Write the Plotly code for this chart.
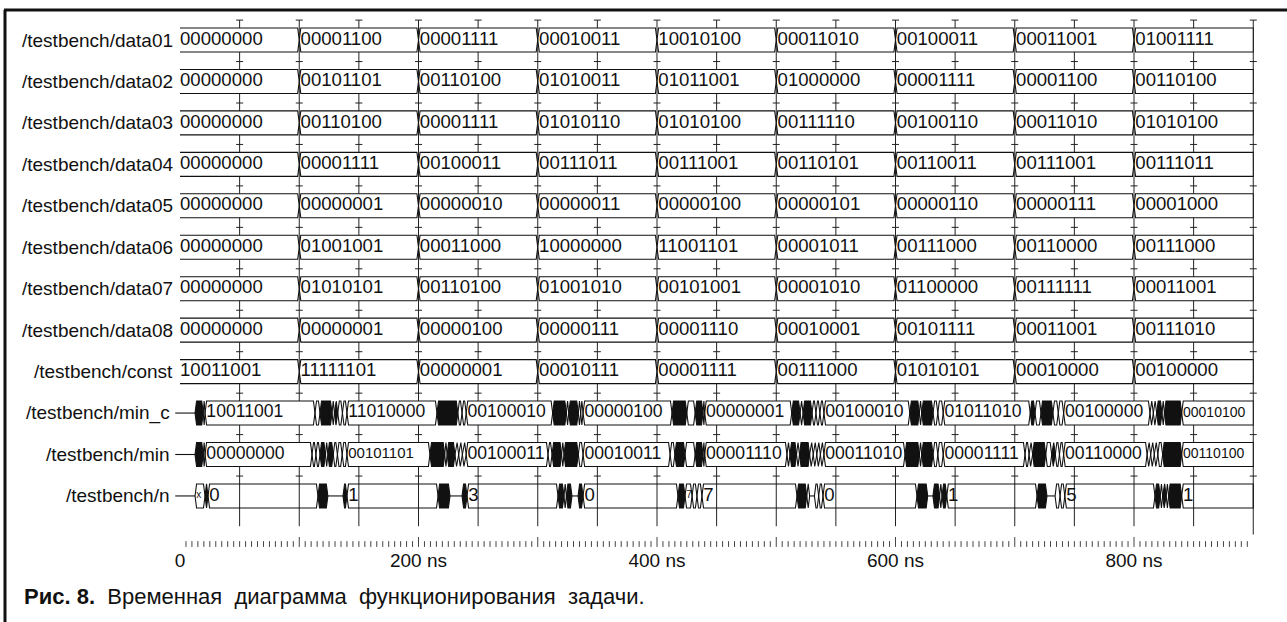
import plotly.graph_objects as go

# ---------------- data ----------------
END_NS = 900
row_names = ["/testbench/data01", "/testbench/data02", "/testbench/data03",
             "/testbench/data04", "/testbench/data05", "/testbench/data06",
             "/testbench/data07", "/testbench/data08", "/testbench/const",
             "/testbench/min_c", "/testbench/min", "/testbench/n"]

data_times = [0, 100, 200, 300, 400, 500, 600, 700, 800]
data01 = ["00000000", "00001100", "00001111", "00010011", "10010100", "00011010", "00100011", "00011001", "01001111"]
data02 = ["00000000", "00101101", "00110100", "01010011", "01011001", "01000000", "00001111", "00001100", "00110100"]
data03 = ["00000000", "00110100", "00001111", "01010110", "01010100", "00111110", "00100110", "00011010", "01010100"]
data04 = ["00000000", "00001111", "00100011", "00111011", "00111001", "00110101", "00110011", "00111001", "00111011"]
data05 = ["00000000", "00000001", "00000010", "00000011", "00000100", "00000101", "00000110", "00000111", "00001000"]
data06 = ["00000000", "01001001", "00011000", "10000000", "11001101", "00001011", "00111000", "00110000", "00111000"]
data07 = ["00000000", "01010101", "00110100", "01001010", "00101001", "00001010", "01100000", "00111111", "00011001"]
data08 = ["00000000", "00000001", "00000100", "00000111", "00001110", "00010001", "00101111", "00011001", "00111010"]
const_vals = ["10011001", "11111101", "00000001", "00010111", "00001111", "00111000", "01010101", "00010000", "00100000"]

# "~" = single mid line, "#" = dense burst of transitions, "" = unlabeled short value
min_c_times = [-4, 12.6, 19.5, 21,
               113.2, 117.4, 127.5, 129.5, 132.3, 136.2, 140,
               215.5, 233, 236.5, 240,
               312.5, 324, 326, 334, 336, 338,
               412.6, 425, 432, 438.6, 440,
               513, 520, 522.5, 530, 533.3, 536.6, 540,
               612, 620, 622, 631.5, 635.5, 640,
               713, 717, 722, 732, 736.5, 741,
               813.4, 816.2, 819, 823.5, 825.5, 840]
min_c_vals = ["~", "#", "", "10011001",
              "", "#", "", "#", "", "", "11010000",
              "#", "", "", "00100010",
              "#", "", "#", "", "", "00000100",
              "#", "", "#", "", "00000001",
              "#", "", "#", "", "", "", "00100010",
              "#", "", "#", "", "", "01011010",
              "#", "", "#", "", "", "00100000",
              "", "", "#", "", "#", "00010100"]

min_times = [-4, 12.6, 19.5, 21,
             110.7, 114, 117.4, 122, 124, 128.5, 132, 136, 140,
             209.6, 222, 224, 230.6, 233.7, 236.8, 240,
             308.6, 312, 320, 322, 334, 338,
             411, 415, 423.5, 432, 438.6, 440,
             509, 511.5, 517, 519.5, 528, 531, 534, 537, 540,
             608, 620, 622, 631.5, 635.5, 640,
             708.6, 712, 715, 726, 731, 734, 737.5, 741,
             811, 814, 817, 820, 824, 840]
min_vals = ["~", "#", "", "00000000",
            "", "", "#", "", "#", "", "", "", "00101101",
            "#", "", "#", "", "", "", "00100011",
            "", "#", "", "#", "", "00010011",
            "", "#", "", "#", "", "00001110",
            "", "#", "", "#", "", "", "", "", "00011010",
            "#", "", "#", "", "", "00001111",
            "", "", "#", "", "#", "", "", "00110000",
            "", "", "", "", "#", "00110100"]

n_times = [-4, 12.6, 21, 23.5,
           115.7, 124, 136.7, 140,
           216.4, 226.4, 236.5, 240.7,
           317, 322, 324, 328.7, 333.8, 338,
           417.6, 423.5, 429.4, 433.5, 437.7,
           517.4, 525.6, 528, 532, 535.6, 539.2,
           618, 627, 631.4, 637, 639, 643,
           718.7, 727, 733.8, 738, 742,
           817.6, 822, 824, 827, 829, 840]
n_vals = ["~", "x", "#", "0",
          "#", "~", "#", "1",
          "#", "~", "#", "3",
          "#", "", "#", "~", "#", "0",
          "#", "7", "", "", "7",
          "#", "", "~", "", "", "0",
          "#", "~", "#", "", "#", "1",
          "#", "~", "", "", "5",
          "#", "", "#", "", "#", "1"]

grid_ns = [50, 100, 150, 200, 250, 300, 350, 400, 450, 500, 550, 600, 650, 700, 750, 800, 850, 900]
ruler_label_ns = [0, 200, 400, 600, 800]
ruler_labels = ["0", "200 ns", "400 ns", "600 ns", "800 ns"]
NB = "\u00a0"
caption = ("<b>Рис. 8.</b>" + NB * 2 + "Временная" + NB * 2 + "диаграмма" + NB * 2
           + "функционирования" + NB * 2 + "задачи.")

# ---------------- style ----------------
FONT = "Liberation Sans, Arial, sans-serif"
H = 0.29           # half box height (row units)
D = 1.3            # transition slope width (ns)
row_text_size = {None: 18.6, "min_c": 17.6, "min": 17.6, "n": 18.6}
small_text = {"min": {140: 15, 840: 14}, "min_c": {840: 14}, "n": {12.6: 10, 423.5: 10}}

fig = go.Figure()

# vertical grid lines + cross marks
gx, gy = [], []
for t in grid_ns:
    gx += [t, t, None]
    gy += [-0.48, 11.93 if t == END_NS else 11.73, None]
fig.add_trace(go.Scatter(x=gx, y=gy, mode="lines", line=dict(color="#222", width=1), hoverinfo="skip"))
mx, my = [], []
for t in grid_ns:
    for i in range(12):
        mx.append(t)
        my.append(i - 0.48)
fig.add_trace(go.Scatter(x=mx, y=my, mode="markers",
                         marker=dict(symbol="line-ew", size=5, line=dict(color="#222", width=1)),
                         hoverinfo="skip"))


def bus_row(idx, times, vals, key=None, fill_white=True):
    y = idx
    top, bot = y - H, y + H
    wx, wy, bx, by, lx, ly, zx, zy = [], [], [], [], [], [], [], []
    tx, ty, tt, ts = [], [], [], []
    for k, (t0, v) in enumerate(zip(times, vals)):
        t1 = times[k + 1] if k + 1 < len(times) else END_NS
        if v == "~":
            zx += [t0, t1, None]
            zy += [y, y, None]
            continue
        d = min(D, (t1 - t0) / 2.0)
        open_left = (t0 == 0)
        right_end = (t1 == END_NS)
        if open_left:
            left = [(t0, bot), (t0, top)]
        else:
            left = [(t0, y), (t0 + d, top)]
        if right_end:
            right = [(t1, top), (t1, bot)]
        else:
            right = [(t1 - d, top), (t1, y), (t1 - d, bot)]
        bottom_left = [] if open_left else [(t0 + d, bot)]
        poly = left + right + bottom_left
        if open_left:
            outline = [(t0, top)] + right + [(t0, bot)]
        else:
            outline = poly + [poly[0]]
        if v == "#":
            bx += [p[0] for p in poly] + [None]
            by += [p[1] for p in poly] + [None]
        else:
            wx += [p[0] for p in poly] + [None]
            wy += [p[1] for p in poly] + [None]
        lx += [p[0] for p in outline] + [None]
        ly += [p[1] for p in outline] + [None]
        if v not in ("", "#"):
            tx.append(t0 + (0.0 if t0 == 0 else 1.1))
            ty.append(y)
            tt.append(v)
            ts.append(small_text.get(key, {}).get(t0, row_text_size[key]))
    if fill_white and wx:
        fig.add_trace(go.Scatter(x=wx, y=wy, mode="lines", fill="toself", fillcolor="white",
                                 line=dict(width=0), hoverinfo="skip"))
    if bx:
        fig.add_trace(go.Scatter(x=bx, y=by, mode="lines", fill="toself", fillcolor="#111",
                                 line=dict(width=0), hoverinfo="skip"))
    fig.add_trace(go.Scatter(x=lx, y=ly, mode="lines", line=dict(color="#111", width=1.1),
                             hoverinfo="skip"))
    if zx:
        fig.add_trace(go.Scatter(x=zx, y=zy, mode="lines", line=dict(color="#111", width=1.1),
                                 hoverinfo="skip"))
    fig.add_trace(go.Scatter(x=tx, y=ty, mode="text", text=tt, textposition="middle right",
                             textfont=dict(family=FONT, size=ts, color="#111"),
                             cliponaxis=False, hoverinfo="skip"))


data_rows = [data01, data02, data03, data04, data05, data06, data07, data08, const_vals]
for i, vals in enumerate(data_rows):
    bus_row(i, data_times, vals)
bus_row(9, min_c_times, min_c_vals, key="min_c")
bus_row(10, min_times, min_vals, key="min")
bus_row(11, n_times, n_vals, key="n", fill_white=False)

# ruler
rx, ry = [], []
for k in range(1, 180):
    t = k * 5
    rx += [t, t, None]
    ry += [11.99 if t % 100 == 0 else 12.09, 12.23, None]
fig.add_trace(go.Scatter(x=rx, y=ry, mode="lines", line=dict(color="#444", width=1), hoverinfo="skip"))
fig.add_trace(go.Scatter(x=ruler_label_ns, y=[12.6] * len(ruler_label_ns), mode="text",
                         text=ruler_labels, textposition="middle center",
                         textfont=dict(family=FONT, size=19, color="#111"), hoverinfo="skip"))

# row labels
annotations = []
for i, name in enumerate(row_names):
    annotations.append(dict(x=-4.6 if i < 9 else -6.8, y=i, xref="x", yref="y", text=name,
                            showarrow=False, xanchor="right", yanchor="middle",
                            font=dict(family=FONT, size=19, color="#111")))
annotations.append(dict(x=22 / 1287, y=1 - 596 / 622, xref="paper", yref="paper", text=caption,
                        showarrow=False, xanchor="left", yanchor="middle",
                        font=dict(family=FONT, size=22, color="#111")))

shapes = [
    dict(type="line", xref="paper", yref="paper", x0=4 / 1287, x1=1, y0=1 - 10 / 622, y1=1 - 10 / 622,
         line=dict(color="#111", width=3)),
    dict(type="line", xref="paper", yref="paper", x0=5 / 1287, x1=5 / 1287, y0=0, y1=1 - 10 / 622,
         line=dict(color="#111", width=3)),
]

fig.update_layout(width=1287, height=622, margin=dict(l=0, r=0, t=0, b=0),
                  paper_bgcolor="white", plot_bgcolor="white", showlegend=False,
                  xaxis=dict(range=[-180 / 1.1925, (1287 - 180) / 1.1925], visible=False, fixedrange=True),
                  yaxis=dict(range=[582 / 41.45, -40 / 41.45], visible=False, fixedrange=True),
                  annotations=annotations, shapes=shapes)

fig.write_html("out.html", config={"displayModeBar": False},
               post_script="document.body.style.margin='0';document.body.style.overflow='hidden';")
